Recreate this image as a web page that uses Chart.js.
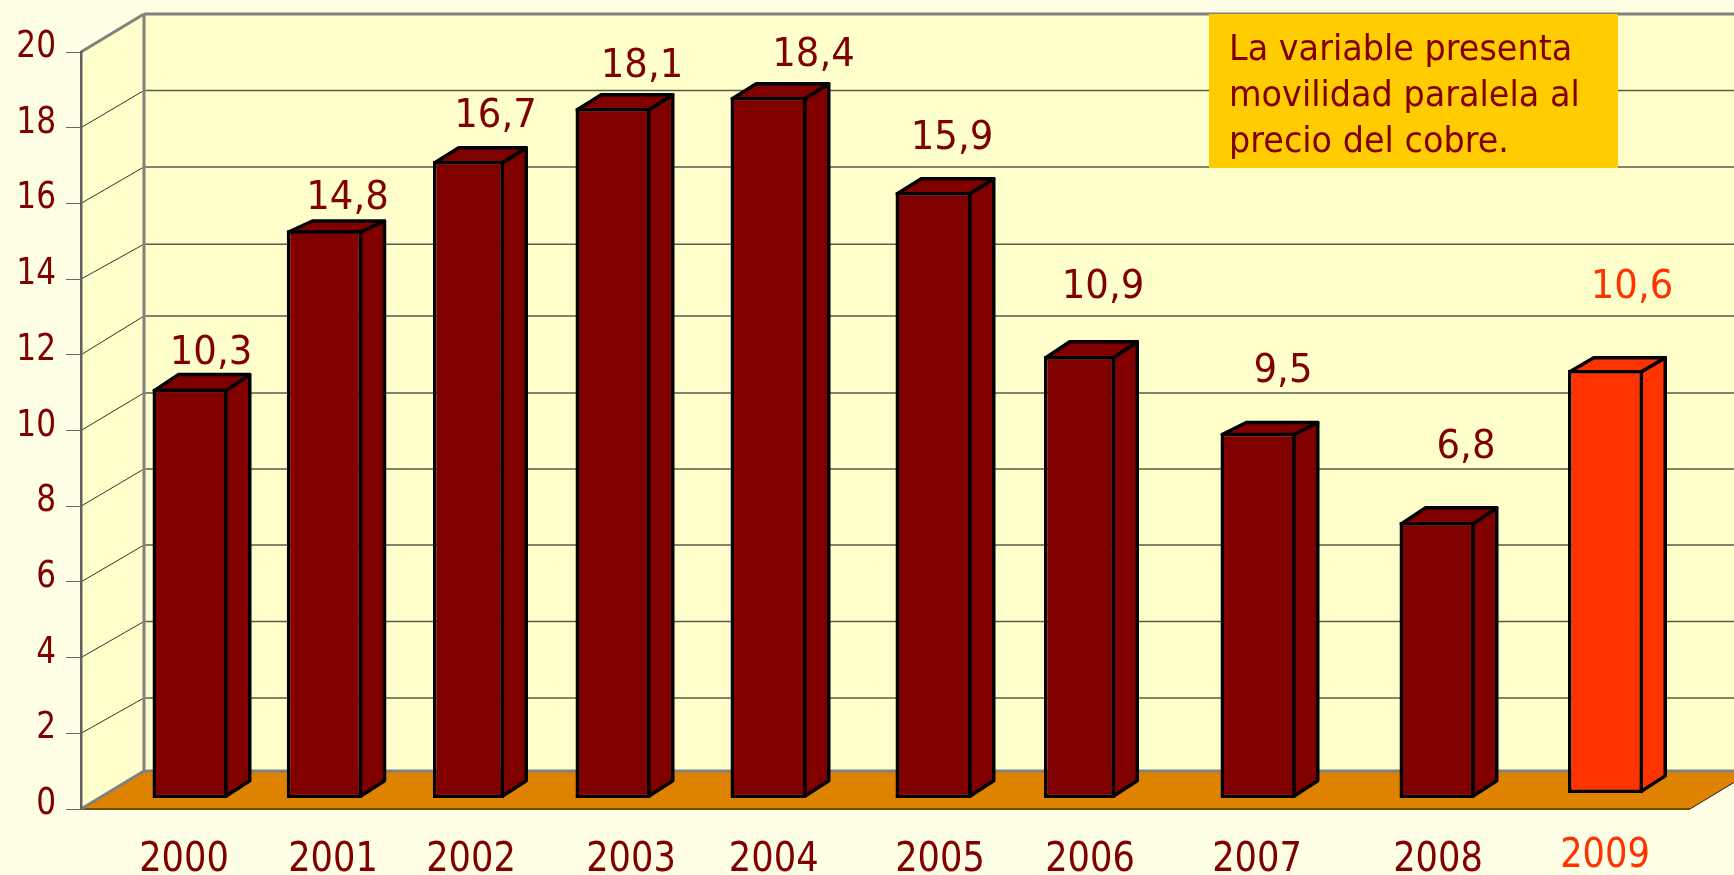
<!DOCTYPE html>
<html><head><meta charset="utf-8">
<style>html,body{margin:0;padding:0;background:#FFFFE6;overflow:hidden}canvas{display:block}</style>
<script src="https://cdn.jsdelivr.net/npm/chart.js@4/dist/chart.umd.min.js"></script>
</head><body>
<div style="width:1734px;height:875px"><canvas id="c" width="1734" height="875"></canvas></div>
<script>
const years = ['2000','2001','2002','2003','2004','2005','2006','2007','2008','2009'];
const labelTexts = ['10,3','14,8','16,7','18,1','18,4','15,9','10,9','9,5','6,8','10,6'];
const barTops = [11.1,15.29,17.12,18.52,18.81,16.3,11.97,9.94,7.58,11.6];
const barBases = [0.29,0.29,0.29,0.29,0.29,0.29,0.29,0.29,0.29,0.42];
const barSlots = [109,243.5,387.5,532,687.5,852.5,998.5,1177,1356,1524.5];
const barWidths = [75,75.5,71,75,76,76,71,75,75,75];
const roofDepths = [16,11,15,15,15,15,16,12,16,14];
const labelSlots = [130,266.5,414.5,561,732.5,871,1022,1202,1385,1551];
const labelLevels = [11.76,15.84,18.02,19.34,19.63,17.44,13.5,11.28,9.28,13.5];
const yearSlots = [103,252,390,550,692.7,859,1009,1176,1357,1524];
const yearLevels = [-1.63,-1.63,-1.63,-1.63,-1.63,-1.63,-1.63,-1.63,-1.63,-1.52];
const wallTicks = [2,4,6,8,10,12,14,16,18];
const wallLevels = [1.93,3.95,5.97,7.98,9.99,12.02,13.92,15.96,17.98];
const noteLines = ['La variable presenta','movilidad paralela al','precio del cobre.'];

const MAROON='#800000', ORANGE='#FF3300', WALL='#FFFFCC', FLOOR='#DE8200', EDGE='#808080';
const FONT='"DejaVu Sans"';
const DX=63, DY=38, BAR_DX=24, BAR_DY=15.5, STROKE=3.5;
const colorOf = i => i===9 ? ORANGE : MAROON;

function text(ctx,str,x,y,size,sx,align,color){
  ctx.save();
  ctx.font=size+'px '+FONT; ctx.fillStyle=color; ctx.textBaseline='alphabetic'; ctx.textAlign=align;
  ctx.translate(x,y); ctx.scale(sx,1); ctx.fillText(str,0,0);
  ctx.restore();
}
function poly(ctx,pts,fill,stroke,lw){
  ctx.beginPath(); pts.forEach((p,i)=> i?ctx.lineTo(p[0],p[1]):ctx.moveTo(p[0],p[1])); ctx.closePath();
  if(fill){ctx.fillStyle=fill;ctx.fill();}
  if(stroke){ctx.strokeStyle=stroke;ctx.lineWidth=lw;ctx.lineJoin='round';ctx.stroke();}
}
function line(ctx,x1,y1,x2,y2,color,lw){
  ctx.beginPath();ctx.moveTo(x1,y1);ctx.lineTo(x2,y2);ctx.strokeStyle=color;ctx.lineWidth=lw;ctx.stroke();
}

const box3d = {
  id:'box3d',
  afterDatasetsUpdate(chart){
    chart.getDatasetMeta(0).data.forEach((el,i)=>{el.width=barWidths[i];});
  },
  beforeDraw(chart){
    const ctx=chart.ctx, y=chart.scales.y, a=chart.chartArea;
    const y0=y.getPixelForValue(0), y20=y.getPixelForValue(20), L=a.left, R=a.right, W=chart.width;
    ctx.save();
    ctx.fillStyle=WALL; ctx.fillRect(L+DX,y20-DY,W-L-DX,y0-y20);
    poly(ctx,[[L,y20],[L+DX,y20-DY],[L+DX,y0-DY],[L,y0]],WALL);
    wallTicks.forEach((v,i)=>{
      const p=y.getPixelForValue(v), q=y.getPixelForValue(wallLevels[i])-DY;
      line(ctx,L,p,L+DX,q,'#333',1);
      line(ctx,L+DX,q,W,q,'#5a5a48',1.5);
    });
    poly(ctx,[[L,y0],[L+DX,y0-DY],[W+2,y0-DY],[R+DX,y0-DY],[R,y0]],FLOOR);
    line(ctx,L,y0,R,y0,'#6b5000',2);
    line(ctx,R,y0,R+DX,y0-DY,'#222',1);
    line(ctx,L+DX,y20-DY,W,y20-DY,EDGE,3);
    line(ctx,L+DX,y20-DY,L+DX,y0-DY,EDGE,3);
    line(ctx,L+DX-1,y0-DY,W,y0-DY,EDGE,3);
    line(ctx,L,y20,L+DX,y20-DY,EDGE,3);
    line(ctx,L,y0,L+DX,y0-DY,EDGE,3);
    ctx.restore();
  },
  beforeDatasetsDraw(chart){
    const ctx=chart.ctx;
    ctx.save();
    chart.getDatasetMeta(0).data.forEach((el,i)=>{
      const {x,y,base,width}=el.getProps(['x','y','base','width'],true);
      const h=STROKE/2, r=x+width/2-h, l=x-width/2+h, t=y+h, b=base-h, c=colorOf(i), d=roofDepths[i];
      poly(ctx,[[r,t],[r+BAR_DX,t-d],[r+BAR_DX,b-BAR_DY],[r,b]],c,'#000',STROKE);
      poly(ctx,[[l,t],[l+BAR_DX,t-d],[r+BAR_DX,t-d],[r,t]],c,'#000',STROKE);
    });
    ctx.restore();
  },
  afterDatasetsDraw(chart){
    const ctx=chart.ctx, X=chart.scales.x, Y=chart.scales.y;
    ctx.save();
    labelTexts.forEach((s,i)=>text(ctx,s,X.getPixelForValue(labelSlots[i]),Y.getPixelForValue(labelLevels[i]),39,0.95,'center',colorOf(i)));
    years.forEach((s,i)=>text(ctx,s,X.getPixelForValue(yearSlots[i]),Y.getPixelForValue(yearLevels[i]),41,0.86,'center',colorOf(i)));
    Y.ticks.forEach(t=>text(ctx,String(t.value),56,Y.getPixelForValue(t.value)+5,38,0.82,'right',MAROON));
    ctx.fillStyle='#FFCC00'; ctx.fillRect(1209,14,409,154);
    noteLines.forEach((s,i)=>text(ctx,s,1229,60+46*i,36,0.93,'left',MAROON));
    ctx.restore();
  }
};

new Chart(document.getElementById('c'),{
  type:'bar',
  data:{datasets:[{
    data:barSlots.map((x,i)=>({x,y:[barBases[i],barTops[i]]})),
    backgroundColor:years.map((_,i)=>colorOf(i)),
    borderColor:'#000',borderWidth:STROKE,borderSkipped:false,inflateAmount:0,barThickness:75
  }]},
  options:{
    responsive:false,animation:false,events:[],
    layout:{padding:{left:66,top:52,right:44,bottom:66}},
    plugins:{legend:{display:false},tooltip:{enabled:false},title:{display:false}},
    scales:{
      x:{type:'linear',display:false,min:0,max:1609,offset:false,grid:{offset:false}},
      y:{type:'linear',min:0,max:20,afterFit:s=>{s.width=15;},
        ticks:{display:false,stepSize:2},
        grid:{drawOnChartArea:false,drawTicks:true,tickLength:15,color:'#666',lineWidth:1},
        border:{display:true,color:'#606060',width:2.5}}
    }
  },
  plugins:[box3d]
});
</script>
</body></html>
